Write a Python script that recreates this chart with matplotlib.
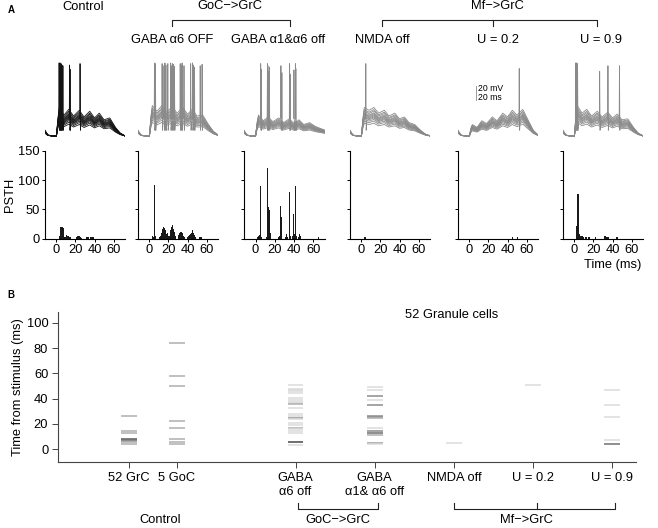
import matplotlib
matplotlib.use('Agg')
import matplotlib.pyplot as plt
import numpy as np

plt.rcParams['font.family'] = ['Liberation Sans', 'DejaVu Sans']
plt.rcParams['font.size'] = 9.3

# ---------------------------------- data : panel A ----------------------------------
conditions = ['Control', 'GABA α6 OFF', 'GABA α1&α6 off', 'NMDA off', 'U = 0.2', 'U = 0.9']

# sample times (ms) of the membrane potential envelope, depolarisation above rest (mV)
trace_t = [-12, -9, -5, 0, 1.5, 3, 8, 13, 18, 24, 29, 35, 40, 45, 50, 56, 62, 67, 72]
env_control = [6, 1, 0, 0, 18, 30, 22, 28, 21, 27, 20, 26, 19, 24, 17, 19, 9, 3, 0]
env_a6 = [6, 1, 0, 0, 20, 32, 26, 32, 25, 31, 24, 30, 23, 28, 21, 22, 12, 5, 1]
env_a1a6 = [6, 1, 0, 0, 14, 22, 16, 20, 15, 19, 14, 18, 13, 17, 12, 14, 10, 8, 6]
env_nmda = [6, 1, 0, 0, 18, 30, 27, 30, 24, 27, 21, 24, 18, 20, 14, 12, 6, 2, 0]
env_u02 = [6, 1, 0, 0, 8, 12, 9, 16, 13, 20, 16, 24, 20, 27, 22, 28, 16, 6, 1]
env_u09 = [6, 1, 0, 0, 22, 32, 24, 28, 21, 26, 20, 25, 19, 23, 17, 18, 9, 3, 0]
envelopes = [env_control, env_a6, env_a1a6, env_nmda, env_u02, env_u09]
cell_scales = [0.6, 0.7, 0.78, 0.85, 0.9, 0.95, 1.0, 1.05, 1.1, 1.18, 1.25, 1.35]
rest_mv = -70

# spikes: time (ms), peak (mV)
spk_control = [(2.5, 34), (3.0, 33), (3.5, 34), (4.0, 30), (4.5, 33), (5.0, 32), (5.5, 31),
               (6.5, 30), (13.5, 31), (14.0, 25), (24.5, 33)]
spk_a6 = [(5.0, 33), (5.5, 34), (6.0, 32), (13, 33), (15, 30), (16, 34), (17, 31), (19, 33),
          (22, 34), (23, 30), (24, 33), (25, 32), (26, 29), (32, 33), (33, 31), (34, 34),
          (36, 30), (43, 33), (45, 34), (46, 31), (47, 28), (53, 30), (55, 32)]
spk_a1a6 = [(5, 33), (5.5, 25), (12, 33), (12.5, 30), (13, 22), (14, 28), (26, 30), (27, 20),
            (35, 33), (35.5, 18), (39.5, 24), (41, 33), (41.5, 26)]
spk_nmda = [(4.3, 33)]
spk_u02 = [(52, 26)]
spk_u09 = [(1.0, 34), (1.5, 33), (2.0, 34), (2.5, 31), (3.0, 33), (26.2, 22), (34.9, 30), (47, 30)]
spikes = [spk_control, spk_a6, spk_a1a6, spk_nmda, spk_u02, spk_u09]

# PSTH: bin time (ms), count
psth_control_t = [3, 4, 5, 6, 7, 8, 10, 11, 12, 13, 14, 15, 21, 22, 23, 24, 25, 26, 32, 33, 34, 36, 37, 38, 39]
psth_control_n = [4, 20, 19, 19, 18, 3, 3, 6, 5, 4, 3, 2, 2, 4, 5, 4, 3, 1, 3, 3, 2, 2, 2, 2, 2]
psth_a6_t = [3, 4, 5, 6, 11, 12, 13, 14, 15, 16, 17, 18, 19, 20, 21, 22, 23, 24, 25, 26, 27,
             30, 31, 32, 33, 34, 35, 36, 37, 40, 41, 42, 43, 44, 45, 46, 47, 48, 53, 54, 55]
psth_a6_n = [5, 3, 92, 4, 3, 5, 10, 17, 20, 18, 14, 8, 10, 4, 5, 15, 19, 23, 17, 12, 4,
             3, 6, 10, 12, 12, 9, 5, 2, 2, 4, 6, 8, 10, 14, 10, 6, 3, 3, 3, 3]
psth_a1a6_t = [2, 3, 4, 5, 6, 11, 12, 13, 14, 15, 16, 24, 25, 26, 27, 31, 32, 33, 35, 36,
               38, 39, 40, 41, 42, 45, 46, 47, 65]
psth_a1a6_n = [3, 5, 6, 90, 3, 3, 120, 54, 48, 10, 10, 3, 5, 55, 37, 3, 8, 3, 80, 5,
               5, 42, 8, 90, 5, 3, 7, 5, 2]
psth_nmda_t = [3, 4]
psth_nmda_n = [3, 3]
psth_u02_t = [45, 50]
psth_u02_n = [3, 3]
psth_u09_t = [2, 3, 4, 5, 6, 7, 8, 9, 10, 12, 13, 15, 16, 22, 32, 33, 34, 35, 36, 44, 45]
psth_u09_n = [21, 77, 77, 8, 5, 4, 5, 3, 3, 3, 3, 3, 3, 3, 4, 4, 3, 3, 2, 3, 3]
psth_t = [psth_control_t, psth_a6_t, psth_a1a6_t, psth_nmda_t, psth_u02_t, psth_u09_t]
psth_n = [psth_control_n, psth_a6_n, psth_a1a6_n, psth_nmda_n, psth_u02_n, psth_u09_n]

# ---------------------------------- data : panel B ----------------------------------
raster_labels = ['52 GrC', '5 GoC', 'GABA\nα6 off', 'GABA\nα1& α6 off', 'NMDA off', 'U = 0.2', 'U = 0.9']
raster_grc_t = [26.2, 14.3, 12.4, 7.7, 7.0, 6.3, 5.3, 4.0]
raster_grc_n = [2, 2, 2, 5, 4, 3, 2, 2]
raster_goc_t = [83.9, 57.7, 49.8, 22.0, 16.4, 7.7, 5.3, 4.0]
raster_goc_n = [2, 2, 2, 2, 2, 2, 2, 2]
raster_a6_t = [50.5, 47.9, 46.9, 46.1, 44.7, 40.2, 38.6, 37.5, 36.3, 35.7, 32.3, 27.5, 26.2,
               25.0, 24.5, 23.8, 20.4, 18.8, 16.7, 15.5, 14.5, 12.4, 5.3, 3.2]
raster_a6_n = [1, 1, 1, 1, 1, 1, 1, 1, 1, 2, 1, 1, 1, 3, 2, 1, 1, 1, 2, 1, 1, 1, 6, 1]
raster_a1a6_t = [49.2, 46.8, 42.3, 39.1, 34.9, 26.2, 25.3, 24.4, 16.4, 14.0, 12.7, 11.3, 5.0, 4.5, 4.0]
raster_a1a6_n = [1, 1, 3, 1, 3, 3, 3, 2, 1, 3, 4, 2, 2, 2, 1]
raster_nmda_t = [4.5]
raster_nmda_n = [1]
raster_u02_t = [50.5]
raster_u02_n = [1]
raster_u09_t = [47.1, 34.7, 25.6, 7.1, 3.7]
raster_u09_n = [1, 1, 1, 1, 4]
raster_t = [raster_grc_t, raster_goc_t, raster_a6_t, raster_a1a6_t, raster_nmda_t, raster_u02_t, raster_u09_t]
raster_n = [raster_grc_n, raster_goc_n, raster_a6_n, raster_a1a6_n, raster_nmda_n, raster_u02_n, raster_u09_n]

# ---------------------------------- layout ----------------------------------
W, H = 658, 528
fig = plt.figure(figsize=(W / 100, H / 100), dpi=100)


def box(l, t, r, b):
    return [l / W, 1 - b / H, (r - l) / W, (b - t) / H]


# overlay in pixel coordinates for titles and brackets
ov = fig.add_axes([0, 0, 1, 1])
ov.set_xlim(0, W)
ov.set_ylim(H, 0)
ov.axis('off')
ov.set_zorder(10)

col_left = [45, 138, 244, 350, 458, 563]
col_right = [125, 218, 325, 430, 538, 643]

for i in range(6):
    # membrane potential traces
    axt = fig.add_axes(box(col_left[i], 58, col_right[i], 138))
    axt.set_xlim(-12, 72)
    axt.set_ylim(-73, 41)
    axt.axis('off')
    col = '#141414' if i == 0 else '#8a8a8a'
    env = np.array(envelopes[i])
    for s in cell_scales:
        axt.plot(trace_t, rest_mv + s * env, color=col, lw=0.6)
    for ts, pk in spikes[i]:
        axt.plot([ts, ts + 0.3, ts + 0.7, ts + 1.3], [-45, pk, -62, -50], color=col, lw=0.6)
    if i == 4:
        axt.plot([7, 7], [-19, 1], color='#8a8a8a', lw=0.6)
        axt.text(8.5, -2, '20 mV', fontsize=6.2, va='center')
        axt.text(8.5, -15, '20 ms', fontsize=6.2, va='center')

    # PSTH
    axp = fig.add_axes(box(col_left[i], 151, col_right[i], 238.5))
    axp.bar(psth_t[i], psth_n[i], width=1.0, color='#1a1a1a', edgecolor='none')
    axp.set_xlim(-12, 72)
    axp.set_ylim(0, 150)
    axp.set_xticks([0, 20, 40, 60])
    axp.set_yticks([0, 50, 100, 150])
    axp.spines['top'].set_visible(False)
    axp.spines['right'].set_visible(False)
    for sp in ('left', 'bottom'):
        axp.spines[sp].set_linewidth(0.8)
    axp.tick_params(direction='out', length=2.5, width=0.7, pad=1.5)
    if i == 0:
        axp.set_ylabel('PSTH', labelpad=1)
    else:
        axp.set_yticklabels([])

# column titles and brackets, panel A
ov.text(11, 10, 'A', fontsize=7, fontweight='bold', ha='center', va='center')
ov.text(83, 7, 'Control', ha='center', va='center')
ov.text(230, 6, 'GoC−>GrC', ha='center', va='center')
ov.text(497, 6, 'Mf−>GrC', ha='center', va='center')
ov.plot([172, 172, 290, 290], [26, 20, 20, 26], color='#222222', lw=0.8)
ov.plot([382, 382, 597, 597], [26, 20, 20, 26], color='#222222', lw=0.8)
ov.plot([493, 493], [20, 26], color='#222222', lw=0.8)
for x, lab in zip([172, 278, 382, 498, 601], conditions[1:]):
    ov.text(x, 40, lab, ha='center', va='center')
ov.text(613, 265, 'Time (ms)', ha='center', va='center')

# ---------------------------------- panel B ----------------------------------
raster_pos = [0.9, 1.5, 3.0, 4.0, 5.0, 6.0, 7.0]
axb = fig.add_axes(box(58, 312, 636, 462))
for x, ts, ns in zip(raster_pos, raster_t, raster_n):
    grays = [str(0.86 * 0.8 ** (n - 1)) for n in ns]
    axb.hlines(ts, x - 0.1, x + 0.1, colors=grays, lw=1.1)
axb.set_xlim(0, 7.3)
axb.set_ylim(-10.3, 108.7)
axb.set_yticks([0, 20, 40, 60, 80, 100])
axb.set_xticks(raster_pos)
axb.set_xticklabels(raster_labels, linespacing=1.25)
axb.spines['top'].set_visible(False)
axb.spines['right'].set_visible(False)
for sp in ('left', 'bottom'):
    axb.spines[sp].set_linewidth(0.8)
    axb.spines[sp].set_color('#444444')
axb.tick_params(direction='out', length=4, width=0.7, pad=3, color='#444444')
axb.set_ylabel('Time from stimulus (ms)', labelpad=2)

ov.text(11, 295, 'B', fontsize=7, fontweight='bold', ha='center', va='center')
ov.text(452, 315, '52 Granule cells', ha='center', va='center')
ov.text(160, 520, 'Control', ha='center', va='center')
ov.plot([298, 298, 378, 378], [503, 509, 509, 503], color='#222222', lw=0.8)
ov.text(338, 520, 'GoC−>GrC', ha='center', va='center')
ov.plot([454, 454, 615, 615], [503, 509, 509, 503], color='#222222', lw=0.8)
ov.plot([537, 537], [503, 509], color='#222222', lw=0.8)
ov.text(526, 520, 'Mf−>GrC', ha='center', va='center')

fig.savefig('out.png', dpi=100)
